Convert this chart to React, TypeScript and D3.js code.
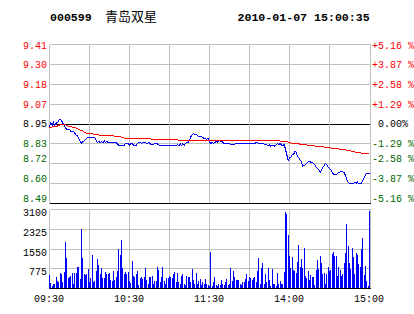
import React from "react";
import * as d3 from "d3";

const W = 414;
const H = 314;

const STOCK_CODE = "000599";
const STOCK_NAME = "青岛双星";
const STAMP = "2010-01-07 15:00:35";

const TIME_TICKS = [0, 60, 120, 180, 240];
const TIME_LABELS = ["09:30", "10:30", "11:30", "14:00", "15:00"];
const GRID_MINUTES = [30, 60, 90, 120, 150, 180, 210];

const PRICE_LEVELS = [9.41, 9.295, 9.18, 9.065, 8.95, 8.835, 8.72, 8.605, 8.49];
const PRICE_LABELS = ["9.41", "9.30", "9.18", "9.07", "8.95", "8.83", "8.72", "8.60", "8.49"];
const PCT_LABELS = ["+5.16 %", "+3.87 %", "+2.58 %", "+1.29 %", " 0.00%", "-1.29 %", "-2.58 %", "-3.87 %", "-5.16 %"];
const PREV_CLOSE = 8.95;

const VOL_LEVELS = [3100, 2325, 1550, 775];
const VOL_LABELS = ["3100", "2325", "1550", "775"];

const PRICE_MIN = [
  0, 1, 2, 3, 4, 5, 6, 7, 8, 9, 10, 11, 12, 13, 15, 16, 18, 19, 20, 21, 22, 23, 24, 25, 27, 28,
  33, 34, 35, 36, 37, 38, 39, 40, 41, 42, 43, 44, 48, 50, 51, 52, 56, 57, 59, 60, 61, 62, 63, 65,
  66, 68, 69, 71, 73, 75, 76, 78, 79, 81, 83, 92, 94, 96, 97, 98, 99, 100, 101, 102, 103, 104, 105,
  106, 107, 108, 109, 110, 112, 114, 115, 116, 118, 119,
  120, 121, 122, 123, 125, 126, 127, 129, 130, 131, 135, 136, 138, 140, 154, 155, 156, 158, 160,
  161, 163, 164, 165, 166, 167, 169, 170, 171, 172, 173, 175, 176, 177, 178, 179, 180, 181, 182,
  183, 184, 185, 186, 187, 189, 190, 192, 193, 194, 195, 197, 198, 199, 200, 202, 203, 204, 205,
  206, 207, 208, 209, 211, 212, 213, 215, 216, 218, 219, 221, 222, 223, 224, 225, 228, 229, 230,
  231, 232, 234, 235, 236, 237, 238, 240,
];
const PRICE_VAL = [
  8.933, 8.958, 8.942, 8.958, 8.942, 8.955, 8.958, 8.972, 8.977, 8.970, 8.955, 8.942, 8.925, 8.919,
  8.919, 8.908, 8.908, 8.896, 8.885, 8.881, 8.865, 8.850, 8.839, 8.848, 8.858, 8.869,
  8.869, 8.869, 8.858, 8.842, 8.850, 8.842, 8.850, 8.842, 8.854, 8.842, 8.850, 8.842, 8.842, 8.842,
  8.835, 8.827, 8.827, 8.839, 8.839, 8.827, 8.839, 8.839, 8.827, 8.827,
  8.839, 8.842, 8.839, 8.842, 8.839, 8.842, 8.831, 8.831, 8.839, 8.835, 8.823, 8.823, 8.823, 8.831,
  8.823, 8.835, 8.827, 8.835, 8.827, 8.839, 8.842, 8.842, 8.858,
  8.877, 8.888, 8.896, 8.888, 8.892, 8.877, 8.877, 8.873, 8.865, 8.862, 8.865,
  8.845, 8.837, 8.845, 8.837, 8.849, 8.845, 8.856, 8.849, 8.845, 8.837, 8.837, 8.829, 8.829, 8.837,
  8.837, 8.845, 8.841, 8.837, 8.837,
  8.833, 8.829, 8.822, 8.829, 8.822, 8.829, 8.822, 8.829, 8.837, 8.829, 8.837, 8.822, 8.833, 8.803,
  8.772, 8.737, 8.753, 8.756, 8.772,
  8.772, 8.791, 8.787, 8.764, 8.753, 8.730, 8.706, 8.714, 8.722, 8.730, 8.733, 8.726, 8.722, 8.714,
  8.699, 8.687, 8.668, 8.683, 8.699,
  8.710, 8.722, 8.714, 8.699, 8.687, 8.672, 8.660, 8.656, 8.664, 8.672, 8.676, 8.668, 8.653, 8.630,
  8.614, 8.603, 8.603, 8.614, 8.606,
  8.614, 8.603, 8.606, 8.626, 8.637, 8.656, 8.664, 8.664,
];

const AVG_MIN = [0, 3, 5, 6, 8, 11, 12, 14, 16, 18, 21, 23, 25, 26, 28, 33, 38, 48, 53, 56, 65, 73, 85, 120,
  135, 150, 166, 177, 179, 182, 190, 195, 205, 212, 220, 225, 230, 235, 240];
const AVG_VAL = [8.927, 8.935, 8.938, 8.938, 8.946, 8.950, 8.946, 8.938, 8.935, 8.931, 8.923, 8.915, 8.912,
  8.904, 8.896, 8.892, 8.885, 8.881, 8.877, 8.869, 8.865, 8.865, 8.858, 8.856,
  8.856, 8.856, 8.856, 8.849, 8.845, 8.837, 8.833, 8.826, 8.818, 8.810, 8.803, 8.795, 8.787, 8.780, 8.776];

const VOLUME = [
  511, 210, 105, 196, 196, 470, 300, 262, 590, 550,
  236, 630, 1808, 1180, 393, 432, 472, 590, 157, 590,
  590, 825, 825, 354, 2319, 1180, 550, 524, 563, 747,
  236, 393, 1297, 236, 275, 668, 1140, 904, 550, 786,
  393, 393, 630, 550, 550, 590, 314, 275, 668, 314,
  432, 668, 1533, 1297, 1886, 786, 550, 630, 550, 630,
  275, 200, 1061, 472, 432, 550, 668, 150, 393, 432,
  354, 432, 786, 314, 196, 432, 432, 472, 196, 275,
  275, 825, 707, 236, 432, 825, 275, 157, 393, 393,
  472, 432, 393, 550, 630, 236, 590, 236, 157, 472,
  550, 196, 118, 472, 432, 432, 236, 747, 314, 157,
  590, 157, 275, 354, 118, 236, 196, 354, 157, 118,
  79, 1415, 79, 236, 432, 118, 79, 196, 118, 314,
  157, 118, 236, 354, 118, 196, 786, 275, 668, 432,
  314, 314, 314, 157, 118, 236, 236, 354, 550, 275,
  432, 393, 314, 393, 432, 236, 668, 1180, 157, 786,
  1000, 196, 550, 236, 786, 314, 79, 747, 196, 157,
  79, 590, 196, 275, 196, 196, 630, 2987, 2908, 2083,
  1258, 786, 1218, 707, 668, 590, 1022, 1690, 825, 1140,
  786, 1572, 472, 393, 668, 314, 511, 432, 432, 150,
  707, 1100, 747, 1258, 982, 550, 590, 196, 550, 825,
  668, 707, 1336, 1415, 1258, 1258, 472, 825, 707, 472,
  550, 982, 1375, 2515, 1650, 982, 747, 1572, 1218, 550,
  1375, 1297, 943, 825, 1533, 1965, 511, 865, 275, 79,
  3040,
];

const RED = "#ff0000";
const BLUE = "#0000ff";
const GREEN = "#006600";
const GRID = "#c0c0c0";
const MONO = "'Liberation Mono', 'DejaVu Sans Mono', monospace";

export default function App() {
  const x = d3.scaleLinear().domain([0, 240]).range([49.5, 369.5]);
  const y = d3.scaleLinear().domain([8.49, 9.41]).range([203.5, 44.5]);
  const yv = d3.scaleLinear().domain([0, 3100]).range([288.5, 209.5]);
  const left = x.range()[0];
  const right = x.range()[1] + 1;
  const pTop = y(9.41);
  const pBot = y(8.49);
  const vTop = yv(3100);
  const vBot = yv(0);

  const priceLine = d3
    .line<number>()
    .x((m) => x(m))
    .y((_, i) => y(PRICE_VAL[i]));
  const avgLine = d3
    .line<number>()
    .x((m) => x(m))
    .y((_, i) => y(AVG_VAL[i]));

  const colorFor = (v: number) => (Math.abs(v - PREV_CLOSE) < 1e-6 ? "#000" : v > PREV_CLOSE ? RED : GREEN);
  const labelY = (v: number, k: number) => {
    const c = y(v);
    if (k === 0) return c + 1.5;
    if (k >= 6) return c - 4.8;
    return c;
  };

  return (
    <svg
      width={W}
      height={H}
      style={{ position: "absolute", left: 0, top: 0, background: "#fff" }}
      fontFamily={MONO}
    >
      <rect x={0} y={0} width={W} height={H} fill="#fff" />
      {/* header */}
      <text x={50} y={20.7} fontSize={11.6} fontWeight="bold" fill="#000">
        {STOCK_CODE}
      </text>
      <text x={105} y={21.2} fontSize={13} fontFamily="'Noto Sans CJK SC', sans-serif" fill="#000">
        {STOCK_NAME}
      </text>
      <text x={237.5} y={20.7} fontSize={11.6} fontWeight="bold" fill="#000">
        {STAMP}
      </text>

      <g shapeRendering="crispEdges">
        {/* price horizontal grid */}
        {PRICE_LEVELS.map((v, k) => (
          <line
            key={"pg" + k}
            x1={left}
            x2={right}
            y1={y(v)}
            y2={y(v)}
            stroke={k === 4 || k === 8 ? "#000" : GRID}
            strokeWidth={1}
          />
        ))}
        {/* vertical grid lines */}
        {GRID_MINUTES.map((m) => (
          <line key={"vgp" + m} x1={x(m)} x2={x(m)} y1={pTop} y2={pBot} stroke={GRID} />
        ))}
        {GRID_MINUTES.map((m) => (
          <line key={"vgv" + m} x1={x(m)} x2={x(m)} y1={vTop} y2={vBot} stroke={GRID} />
        ))}
        <line x1={left} x2={left} y1={pTop} y2={pBot} stroke={GRID} />
        <line x1={right} x2={right} y1={pTop} y2={pBot} stroke={GRID} />
        <line x1={left} x2={left} y1={vTop} y2={vBot} stroke={GRID} />
        <line x1={right} x2={right} y1={vTop} y2={vBot} stroke={GRID} />
        {/* volume horizontal grid */}
        {VOL_LEVELS.map((v) => (
          <line key={"vg" + v} x1={left} x2={right} y1={yv(v)} y2={yv(v)} stroke={GRID} />
        ))}
        {/* volume bars */}
        {VOLUME.map((v, i) => (
          <rect key={"b" + i} x={x(i) - 0.5} width={1} y={yv(v)} height={vBot - yv(v)} fill={BLUE} />
        ))}
        <line x1={left} x2={right} y1={vBot} y2={vBot} stroke="#000" />
        <line x1={left} x2={right} y1={pBot} y2={pBot} stroke="#000" />
      </g>

      {/* price lines */}
      <path d={priceLine(PRICE_MIN) || ""} fill="none" stroke={BLUE} strokeWidth={1} shapeRendering="crispEdges" />
      <path d={avgLine(AVG_MIN) || ""} fill="none" stroke={RED} strokeWidth={1} shapeRendering="crispEdges" />

      {/* left price labels */}
      {PRICE_LEVELS.map((v, k) => (
        <text key={"pl" + k} x={47} y={labelY(v, k) + 3.4} fontSize={10} textAnchor="end" fill={colorFor(v)}>
          {PRICE_LABELS[k]}
        </text>
      ))}
      {/* right percent labels */}
      {PRICE_LEVELS.map((v, k) => (
        <text
          key={"pr" + k}
          x={372}
          y={labelY(v, k) + 3.4}
          fontSize={10}
          fill={colorFor(v)}
          style={{ whiteSpace: "pre" }}
        >
          {PCT_LABELS[k]}
        </text>
      ))}
      {/* volume labels */}
      {VOL_LEVELS.map((v, k) => (
        <text key={"vl" + v} x={47} y={yv(v) + 6.5} fontSize={10} textAnchor="end" fill="#000">
          {VOL_LABELS[k]}
        </text>
      ))}
      {/* time labels */}
      {TIME_TICKS.map((m, k) => (
        <text key={"t" + m} x={x(m) - 0.5} y={301.7} fontSize={10} textAnchor="middle" fill="#000">
          {TIME_LABELS[k]}
        </text>
      ))}
    </svg>
  );
}
